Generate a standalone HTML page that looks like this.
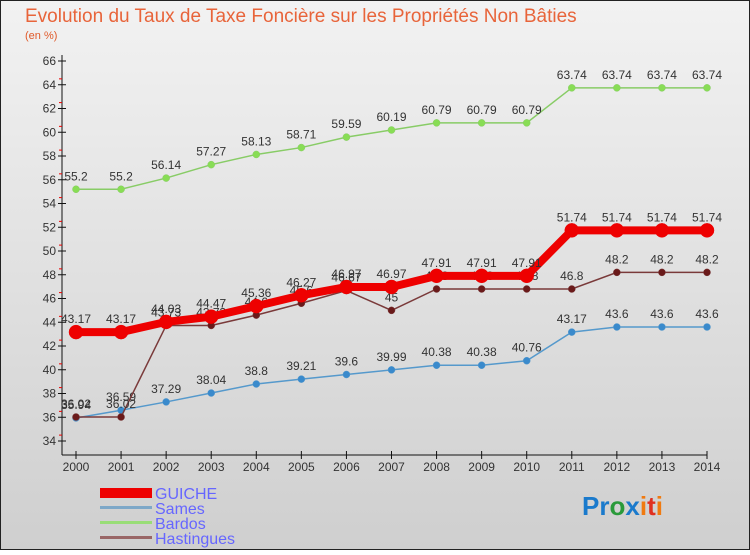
<!DOCTYPE html>
<html><head><meta charset="utf-8"><style>
body{margin:0;width:750px;height:550px;overflow:hidden;font-family:"Liberation Sans",sans-serif}
</style></head><body>
<svg id="c" width="750" height="550" xmlns="http://www.w3.org/2000/svg">
<defs><linearGradient id="bg" x1="0" y1="0" x2="0" y2="1"><stop offset="0" stop-color="#f2f2f2"/><stop offset="1" stop-color="#cfcfcf"/></linearGradient></defs>
<rect x="0.5" y="0.5" width="749" height="549" fill="url(#bg)" stroke="#222"/>
<text x="25" y="22" font-size="19" fill="#e8643a">Evolution du Taux de Taxe Foncière sur les Propriétés Non Bâties</text>
<text x="25" y="39" font-size="11" fill="#e05a2a">(en %)</text>
<g id="axes"></g><g id="series"></g>
<g>
<rect x="100" y="488" width="52" height="10" fill="#e00"/>
<text x="155" y="499" font-size="16" fill="#6666ff">GUICHE</text>
<rect x="100" y="506" width="52" height="3" fill="#7ea8c8"/>
<text x="155" y="514" font-size="16" fill="#6666ff">Sames</text>
<rect x="100" y="521" width="52" height="3" fill="#99dd77"/>
<text x="155" y="529" font-size="16" fill="#6666ff">Bardos</text>
<rect x="100" y="536" width="52" height="3" fill="#996666"/>
<text x="155" y="544" font-size="16" fill="#6666ff">Hastingues</text>
</g>
<text x="582" y="515" font-size="26" font-weight="bold"><tspan fill="#1a7acc">Pr</tspan><tspan fill="#2a9a3a">o</tspan><tspan fill="#1a7acc">x</tspan><tspan fill="#f07a10">i</tspan><tspan fill="#e03020">t</tspan><tspan fill="#f07a10">i</tspan></text>
</svg>
<script>
const years=[2000,2001,2002,2003,2004,2005,2006,2007,2008,2009,2010,2011,2012,2013,2014];
const yTicks=[34,36,38,40,42,44,46,48,50,52,54,56,58,60,62,64,66];
const guiche=[43.17,43.17,44.03,44.47,45.36,46.27,46.97,46.97,47.91,47.91,47.91,51.74,51.74,51.74,51.74];
const sames=[35.94,36.59,37.29,38.04,38.8,39.21,39.6,39.99,40.38,40.38,40.76,43.17,43.6,43.6,43.6];
const bardos=[55.2,55.2,56.14,57.27,58.13,58.71,59.59,60.19,60.79,60.79,60.79,63.74,63.74,63.74,63.74];
const hastingues=[36.02,36.02,43.73,43.73,44.6,45.6,46.67,45,46.8,46.8,46.8,46.8,48.2,48.2,48.2];
const NS="http://www.w3.org/2000/svg";
const xS=i=>76+i*(707-76)/(years.length-1);
const yS=v=>441-(v-34)*(441-61)/32;
function mk(t,a,p){const e=document.createElementNS(NS,t);for(const k in a)e.setAttribute(k,a[k]);p.appendChild(e);return e;}
const ax=document.getElementById('axes');
mk('line',{x1:62,y1:55,x2:62,y2:455,stroke:'#111'},ax);
mk('line',{x1:62,y1:455,x2:707,y2:455,stroke:'#111'},ax);
yTicks.forEach(v=>{const y=yS(v);
 const g=mk('line',{x1:58,y1:y,x2:66,y2:y,stroke:'#111','stroke-width':1},ax);
 
 if(v<66){mk('line',{x1:59,y1:y-5.9,x2:62,y2:y-5.9,stroke:'#e00'},ax);}
 const t=mk('text',{x:56,y:y+4,'font-size':12,'text-anchor':'end',fill:'#333'},ax);t.textContent=v;
 });
years.forEach((yr,i)=>{const x=xS(i);mk('line',{x1:x,y1:451,x2:x,y2:459,stroke:'#111'},ax);
 const t=mk('text',{x:x,y:471,'font-size':12,'text-anchor':'middle',fill:'#333'},ax);t.textContent=yr;
 });
const sg=document.getElementById('series');
function draw(name,data,color,w,r,dot){
 const g=mk('g',{},sg);
 mk('polyline',{points:data.map((v,i)=>xS(i)+','+yS(v)).join(' '),fill:'none',stroke:color,'stroke-width':w},g);
 data.forEach((v,i)=>{const c=mk('circle',{cx:xS(i),cy:yS(v),r:r,fill:dot,stroke:color,'stroke-width':0.5},g);
  
  const t=mk('text',{x:xS(i),y:yS(v)-9,'font-size':12,'text-anchor':'middle',fill:'#333'},g);t.textContent=v;});
}
draw('bardos',bardos,'#88cc66',1.5,3.5,'#88dd55');
draw('sames',sames,'#5599cc',1.5,3.5,'#3a8acc');
draw('hastingues',hastingues,'#7a3a3a',1.5,3.5,'#6a1a1a');
draw('guiche',guiche,'#ee0000',8,7,'#ee0000');
</script>
</body></html>
